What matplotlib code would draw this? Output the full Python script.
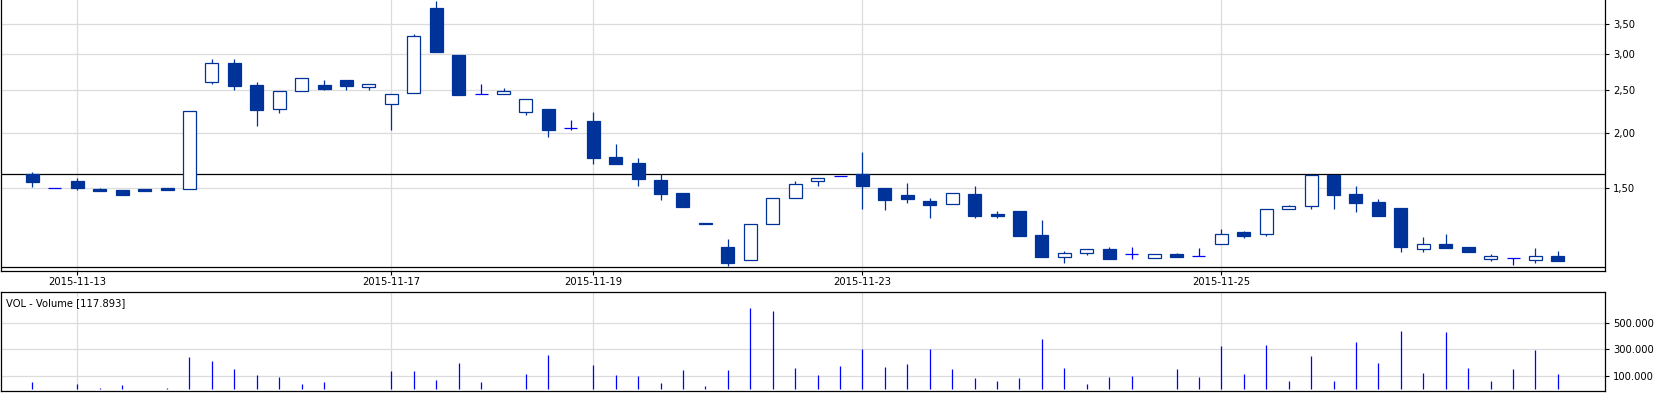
import matplotlib
matplotlib.use('Agg')
import matplotlib.pyplot as plt
from matplotlib.ticker import FixedLocator, FuncFormatter, NullLocator

# intraday bars, one per index
opens = [1.612, 1.50, 1.558, 1.495, 1.487, 1.495, 1.503, 1.498, 2.594, 2.866,
         2.554, 2.256, 2.476, 2.554, 2.625, 2.527, 2.315, 2.451, 3.808, 2.987,
         2.438, 2.438, 2.222, 2.260, 2.045, 2.124, 1.764, 1.710, 1.566, 1.464,
         1.252, 1.108, 1.034, 1.245, 1.424, 1.555, 1.596, 1.612, 1.500, 1.447,
         1.405, 1.381, 1.457, 1.314, 1.334, 1.179, 1.054, 1.072, 1.096, 1.067,
         1.045, 1.067, 1.056, 1.123, 1.195, 1.183, 1.346, 1.367, 1.607, 1.457,
         1.398, 1.355, 1.095, 1.125, 1.108, 1.043, 1.045, 1.034, 1.056]
highs = [1.629, 1.50, 1.580, 1.505, 1.487, 1.495, 1.503, 2.233, 2.926, 2.926,
         2.598, 2.476, 2.648, 2.625, 2.625, 2.567, 2.438, 3.329, 3.948, 2.987,
         2.572, 2.515, 2.376, 2.260, 2.135, 2.225, 1.886, 1.755, 1.612, 1.464,
         1.252, 1.155, 1.245, 1.424, 1.558, 1.580, 1.596, 1.810, 1.500, 1.542,
         1.424, 1.462, 1.518, 1.334, 1.334, 1.274, 1.085, 1.095, 1.108, 1.108,
         1.067, 1.074, 1.100, 1.218, 1.205, 1.346, 1.376, 1.604, 1.607, 1.518,
         1.417, 1.355, 1.167, 1.185, 1.108, 1.067, 1.045, 1.100, 1.085]
lows = [1.513, 1.50, 1.490, 1.480, 1.449, 1.480, 1.487, 1.498, 2.576, 2.497,
        2.074, 2.218, 2.476, 2.497, 2.497, 2.497, 2.031, 2.451, 3.039, 2.433,
        2.438, 2.438, 2.191, 1.959, 2.031, 1.704, 1.704, 1.521, 1.415, 1.365,
        1.252, 1.006, 1.034, 1.245, 1.424, 1.521, 1.596, 1.350, 1.344, 1.393,
        1.289, 1.381, 1.289, 1.289, 1.175, 1.054, 1.022, 1.063, 1.043, 1.043,
        1.045, 1.054, 1.056, 1.123, 1.163, 1.175, 1.346, 1.350, 1.350, 1.330,
        1.303, 1.081, 1.081, 1.104, 1.081, 1.032, 1.009, 1.022, 1.032]
closes = [1.553, 1.50, 1.500, 1.480, 1.449, 1.480, 1.487, 2.233, 2.861, 2.550,
          2.252, 2.476, 2.648, 2.510, 2.550, 2.567, 2.438, 3.289, 3.039, 2.433,
          2.438, 2.476, 2.376, 2.031, 2.045, 1.757, 1.704, 1.577, 1.459, 1.365,
          1.251, 1.022, 1.245, 1.424, 1.531, 1.580, 1.596, 1.521, 1.415, 1.422,
          1.379, 1.462, 1.303, 1.303, 1.175, 1.054, 1.072, 1.095, 1.043, 1.067,
          1.067, 1.054, 1.056, 1.183, 1.175, 1.346, 1.367, 1.604, 1.452, 1.393,
          1.303, 1.110, 1.123, 1.104, 1.081, 1.056, 1.045, 1.056, 1.032]
volumes = [58000, 0, 43000, 8000, 36000, 5000, 10000, 243000, 214000, 154000,
           110000, 95000, 43000, 58000, 5000, 0, 139000, 139000, 73000, 199000,
           58000, 0, 117000, 258000, 5000, 184000, 110000, 102000, 51000, 147000,
           28000, 147000, 611000, 584000, 162000, 110000, 176000, 302000, 169000, 191000,
           302000, 154000, 88000, 65000, 88000, 377000, 162000, 43000, 95000, 102000,
           5000, 154000, 95000, 325000, 117000, 330000, 65000, 250000, 65000, 355000,
           199000, 435000, 125000, 428000, 162000, 65000, 154000, 296000, 117893]

date_pos = [2, 16, 25, 37, 53]
date_labels = ['2015-11-13', '2015-11-17', '2015-11-19', '2015-11-23', '2015-11-25']
price_ticks = [1.5, 2.0, 2.5, 3.0, 3.5]
price_lines = [1.0, 1.612]
vol_ticks = [100000, 300000, 500000]

dark = '#003399'
doji = '#0000ff'
grid = '#dcdcdc'
plt.rcParams['font.family'] = ['DejaVu Sans']
plt.rcParams['font.size'] = 7.2

fig = plt.figure(figsize=(16.59, 3.93), dpi=100)
ax = fig.add_axes([1 / 1659, 1 - 271 / 393, 1604 / 1659, 271 / 393])
axv = fig.add_axes([1 / 1659, 1 - 390.7 / 393, 1604 / 1659, 99 / 393])

n = len(opens)
xs = list(range(n))
w = 0.58

ax.set_yscale('log')
for i in xs:
    o, h, l, c = opens[i], highs[i], lows[i], closes[i]
    if o == c:
        ax.vlines(i, l, h, color=doji, lw=0.9, zorder=3)
        ax.hlines(o, i - w / 2, i + w / 2, color=doji, lw=0.9, zorder=3)
        continue
    ax.vlines(i, l, h, color=dark, lw=0.9, zorder=3)
    face = dark if c < o else 'white'
    ax.bar(i, abs(c - o), bottom=min(o, c), width=w, facecolor=face,
           edgecolor=dark, linewidth=0.9, zorder=4)

for p in price_lines:
    ax.axhline(p, color='black', lw=0.9, zorder=2)

ax.set_xlim(-1.4, 70.1)
ax.set_ylim(0.979, 3.97)
ax.yaxis.tick_right()
ax.yaxis.set_major_locator(FixedLocator(price_ticks))
ax.yaxis.set_minor_locator(NullLocator())
ax.yaxis.set_major_formatter(FuncFormatter(lambda v, _: f'{v:.2f}'.replace('.', ',')))
ax.set_xticks(date_pos)
ax.set_xticklabels(date_labels)
ax.tick_params(axis='x', length=3, width=0.8, pad=1.5)
ax.tick_params(axis='y', length=3, width=0.8, pad=3)
ax.grid(True, color=grid, lw=0.9, zorder=0)
ax.set_axisbelow(True)
ax.spines['top'].set_visible(False)
for s in ['left', 'right', 'bottom']:
    ax.spines[s].set_linewidth(0.9)

axv.vlines(xs, 0, volumes, color=doji, lw=0.9, zorder=3)
axv.set_xlim(-1.4, 70.1)
axv.set_ylim(-9000, 730000)
axv.yaxis.tick_right()
axv.set_yticks(vol_ticks)
axv.yaxis.set_major_formatter(FuncFormatter(lambda v, _: f'{int(v):,}'.replace(',', '.')))
axv.set_xticks(date_pos)
axv.set_xticklabels([])
axv.tick_params(axis='x', length=0)
axv.tick_params(axis='y', length=3, width=0.8, pad=3)
axv.grid(True, color=grid, lw=0.9, zorder=0)
axv.set_axisbelow(True)
for s in axv.spines.values():
    s.set_linewidth(0.9)
axv.text(0.003, 0.88, f'VOL - Volume [{volumes[-1]:,}]'.replace(',', '.'),
         transform=axv.transAxes, ha='left', va='center', zorder=5,
         bbox=dict(facecolor='white', edgecolor='none', pad=1))

fig.savefig('out.png', dpi=100)
